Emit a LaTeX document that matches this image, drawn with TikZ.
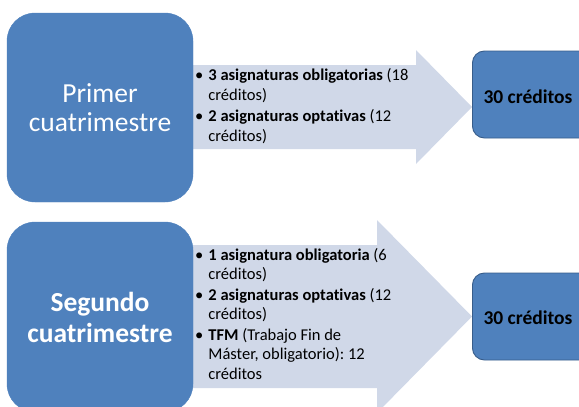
\documentclass[tikz,border=0pt]{standalone}
\usepackage{fontspec}
\setmainfont{Carlito}[Ligatures={NoCommon,NoContextual}]
\frenchspacing
\definecolor{boxblue}{HTML}{4F81BD}
\definecolor{boxedge}{HTML}{385D8A}
\definecolor{arrowfill}{HTML}{D0D8E8}
\begin{document}
\begin{tikzpicture}[x=1pt,y=-1pt,
  bigbox/.style={fill=boxblue, draw=boxblue, rounded corners=28pt, text=white,
    align=center, inner sep=0pt, font=\fontsize{27.5}{29}\selectfont},
  sumbox/.style={fill=boxblue, draw=boxedge, line width=0.9pt, rounded corners=12pt,
    text=black, font=\bfseries\fontsize{19.5}{22}\selectfont},
  listtext/.style={anchor=west, inner sep=0pt, text=black,
    font=\fontsize{16.5}{19.5}\selectfont},
  arrowshape/.style={fill=arrowfill}]
\useasboundingbox (0,0) rectangle (579,407);
\clip (0,0) rectangle (579,407);
% arrows
\fill[arrowshape] (193,65) -- (416,65) -- (416,50) -- (472,107) -- (416,164) -- (416,149) -- (193,149) -- cycle;
\fill[arrowshape] (193,245) -- (377,245) -- (377,220) -- (472,316.5) -- (377,413) -- (377,388) -- (193,388) -- cycle;
% big boxes
\node[bigbox, minimum width=186pt, minimum height=189pt] (s1) at (100,107.5) {Primer\\cuatrimestre};
\node[bigbox, minimum width=186pt, minimum height=190pt, font=\bfseries\fontsize{27.5}{31}\selectfont] (s2) at (100,317) {Segundo\\cuatrimestre};
% summary boxes
\node[sumbox, minimum width=140pt, minimum height=87pt, anchor=west] (r1) at (472,94.5) {};
\node[sumbox, minimum width=140pt, minimum height=87pt, anchor=west] (r2) at (472,316.5) {};
\node[text=black, font=\bfseries\fontsize{19.5}{22}\selectfont] (r1t) at (528,97) {30 créditos};
\node[text=black, font=\bfseries\fontsize{19.5}{22}\selectfont] (r2t) at (528,318) {30 créditos};
% lists
\node[listtext] (l1) at (195,107) {%
  \begin{tabular}{@{}l@{\hspace{5pt}}l@{}}
  • & \textbf{3 asignaturas obligatorias} (18\\
    & créditos)\\[2pt]
  • & \textbf{2 asignaturas optativas} (12\\
    & créditos)
  \end{tabular}};
\node[listtext] (l2) at (195,316) {%
  \begin{tabular}{@{}l@{\hspace{5pt}}l@{}}
  • & \textbf{1 asignatura obligatoria} (6\\
    & créditos)\\[1pt]
  • & \textbf{2 asignaturas optativas} (12\\
    & créditos)\\[1pt]
  • & \textbf{TFM} (Trabajo Fin de\\
    & Máster, obligatorio): 12\\
    & créditos
  \end{tabular}};
\end{tikzpicture}
\end{document}
